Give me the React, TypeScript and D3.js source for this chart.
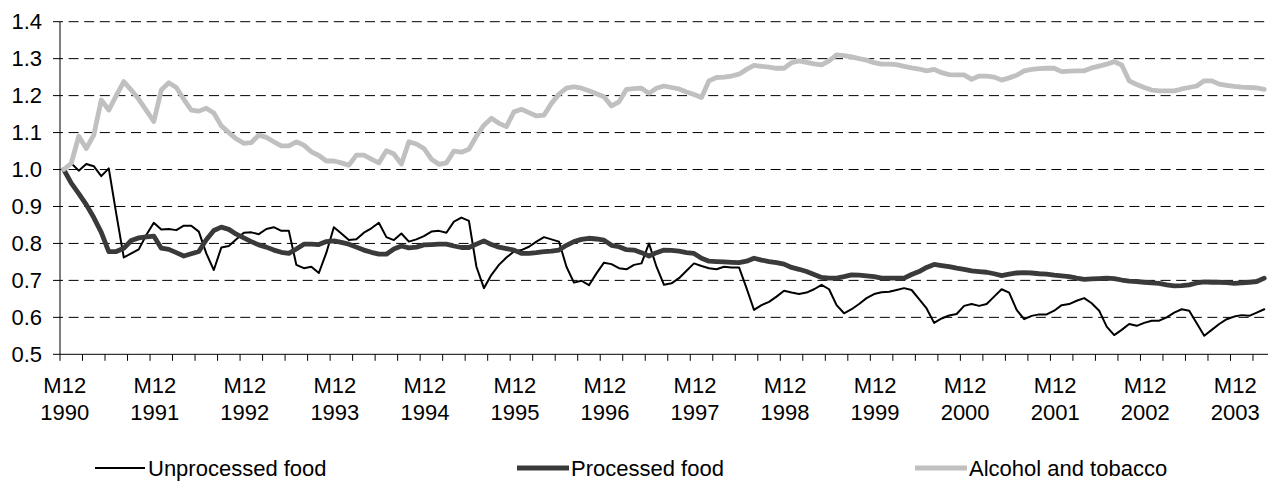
import React from 'react';
import * as d3 from 'd3';

// ---- data (monthly index values, M12 1990 = 1.0) ----
const unprocessedFood = [
  1.0, 1.017, 0.997, 1.015, 1.009, 0.982, 1.003, 0.88, 0.762, 0.773, 0.784, 0.823,
  0.856, 0.838, 0.839, 0.836, 0.848, 0.848, 0.832, 0.773, 0.728, 0.789, 0.793, 0.811,
  0.829, 0.83, 0.825, 0.839, 0.844, 0.834, 0.834, 0.742, 0.733, 0.737, 0.72, 0.775,
  0.844, 0.827, 0.809, 0.811, 0.829, 0.841, 0.856, 0.817, 0.809, 0.827, 0.805, 0.811,
  0.82, 0.832, 0.834, 0.829, 0.859, 0.87, 0.861, 0.737, 0.679, 0.715, 0.742, 0.762,
  0.778, 0.782, 0.791, 0.805, 0.817, 0.811, 0.805, 0.737, 0.694, 0.699, 0.687, 0.719,
  0.748, 0.744, 0.733, 0.73, 0.742, 0.746, 0.8, 0.737, 0.688, 0.692, 0.706, 0.726,
  0.746, 0.739, 0.733, 0.73, 0.737, 0.735, 0.735, 0.679, 0.62, 0.633, 0.642, 0.656,
  0.672, 0.667, 0.663, 0.667, 0.676, 0.688, 0.676, 0.633, 0.611, 0.622, 0.636, 0.652,
  0.663, 0.668, 0.669, 0.674, 0.679, 0.674, 0.649, 0.624, 0.585, 0.597, 0.605, 0.609,
  0.631, 0.636, 0.631, 0.636, 0.656, 0.676, 0.667, 0.62, 0.595, 0.604, 0.608, 0.608,
  0.618, 0.633, 0.636, 0.645, 0.652, 0.638, 0.618, 0.575, 0.552, 0.566, 0.582, 0.577,
  0.585, 0.591, 0.591, 0.6, 0.613, 0.622, 0.618, 0.584, 0.55, 0.566, 0.582, 0.595,
  0.602, 0.606, 0.604, 0.613, 0.622,
];

const processedFood = [
  1.0, 0.963, 0.935, 0.905, 0.87, 0.83, 0.778, 0.778, 0.787, 0.808, 0.815, 0.818,
  0.82, 0.787, 0.784, 0.775, 0.766, 0.772, 0.778, 0.81, 0.835, 0.844, 0.838, 0.825,
  0.815, 0.805, 0.796, 0.79, 0.782, 0.776, 0.773, 0.785, 0.798, 0.798, 0.797, 0.805,
  0.807, 0.803, 0.798, 0.79, 0.782, 0.776, 0.771, 0.771, 0.785, 0.793, 0.788, 0.79,
  0.796, 0.797, 0.798, 0.798, 0.793, 0.789, 0.789, 0.798, 0.807, 0.797, 0.79, 0.786,
  0.782, 0.773, 0.773, 0.775, 0.778, 0.779, 0.782, 0.795, 0.805, 0.811, 0.814, 0.812,
  0.809, 0.795, 0.791, 0.783, 0.782, 0.775, 0.766, 0.775, 0.782, 0.781, 0.779, 0.775,
  0.773, 0.76, 0.752, 0.751, 0.75, 0.749, 0.748, 0.752, 0.76, 0.755, 0.751, 0.748,
  0.744, 0.735, 0.73, 0.724, 0.716, 0.708, 0.706, 0.706, 0.71, 0.715, 0.714, 0.712,
  0.71, 0.706, 0.706, 0.706, 0.706, 0.716, 0.724, 0.735, 0.743, 0.74, 0.737, 0.733,
  0.73, 0.726, 0.724, 0.722, 0.718, 0.713, 0.717, 0.72, 0.721, 0.72, 0.718, 0.717,
  0.714, 0.712, 0.71, 0.706, 0.703, 0.704, 0.705, 0.706, 0.705, 0.701, 0.698, 0.697,
  0.695, 0.693, 0.692, 0.688, 0.685, 0.686, 0.688, 0.693, 0.696, 0.695, 0.695, 0.694,
  0.692, 0.693, 0.695, 0.697, 0.706,
];

const alcoholTobacco = [
  1.0, 1.017, 1.09, 1.057, 1.093, 1.188, 1.161, 1.2, 1.238, 1.215, 1.19, 1.16,
  1.13, 1.215, 1.235, 1.222, 1.19, 1.161, 1.158, 1.166, 1.153, 1.118, 1.1, 1.083,
  1.071, 1.073, 1.093, 1.087, 1.075, 1.064, 1.064, 1.075, 1.066, 1.048, 1.038, 1.023,
  1.023, 1.018, 1.012, 1.039, 1.039, 1.028, 1.018, 1.051, 1.042, 1.015, 1.075, 1.069,
  1.057, 1.028, 1.014, 1.018, 1.05, 1.047, 1.055, 1.09, 1.12, 1.139, 1.125, 1.116,
  1.156, 1.163, 1.154, 1.145, 1.147, 1.179, 1.204, 1.22, 1.224, 1.22, 1.213, 1.205,
  1.197, 1.172, 1.183, 1.217, 1.219, 1.22, 1.206, 1.22, 1.226, 1.222, 1.218, 1.21,
  1.203, 1.195, 1.24, 1.249, 1.25, 1.253, 1.258, 1.271, 1.282, 1.279, 1.277, 1.274,
  1.274, 1.289, 1.294, 1.29, 1.286, 1.283, 1.294, 1.31, 1.308, 1.305, 1.3, 1.296,
  1.289, 1.285, 1.285, 1.284, 1.279, 1.275, 1.272, 1.267, 1.271, 1.262, 1.257, 1.256,
  1.256, 1.244, 1.253, 1.253, 1.25, 1.242, 1.248, 1.255, 1.267, 1.271, 1.273, 1.274,
  1.274, 1.265, 1.266, 1.267, 1.267, 1.275, 1.28, 1.285, 1.292, 1.283, 1.24, 1.23,
  1.222, 1.215, 1.213, 1.213, 1.213, 1.218, 1.222, 1.226, 1.24, 1.24, 1.231, 1.228,
  1.225, 1.223, 1.222, 1.221, 1.217,
];

const seriesNames = ['Unprocessed food', 'Processed food', 'Alcohol and tobacco'];
const yTickValues = [0.5, 0.6, 0.7, 0.8, 0.9, 1.0, 1.1, 1.2, 1.3, 1.4];
const yearLabels = ['1990', '1991', '1992', '1993', '1994', '1995', '1996', '1997', '1998', '1999', '2000', '2001', '2002', '2003'];
const startYear = 1990;

// monthly categories: M12 1990 ... M4 2004
const categories = d3.range(unprocessedFood.length).map((i) => {
  const m = ((11 + i) % 12) + 1;
  const yr = startYear + Math.floor((11 + i) / 12);
  return `M${m} ${yr}`;
});

// ---- layout ----
const W = 1270;
const H = 501;
const plotLeft = 60;
const plotRight = 1268;
const plotTop = 21.7;
const plotBottom = 354.3;
const FONT = "'Liberation Sans', Arial, sans-serif";

const styles = [
  { color: '#000000', width: 2 },
  { color: '#3a3a3a', width: 4.8 },
  { color: '#c0c0c0', width: 4.8 },
];
const legendPos = [
  { x1: 95, x2: 145, tx: 148 },
  { x1: 517, x2: 569, tx: 571 },
  { x1: 915, x2: 967, tx: 969 },
];
const legendY = 468;

export default function App() {
  const x = d3.scaleBand<string>().domain(categories).range([plotLeft, plotRight]).padding(0);
  const bw = x.bandwidth();
  const cx = (i: number) => (x(categories[i]) as number) + bw / 2;
  const y = d3.scaleLinear().domain([0.5, 1.4]).range([plotBottom, plotTop]);
  const fmt = d3.format('.1f');

  const line = d3
    .line<number>()
    .x((_, i) => cx(i))
    .y((d) => y(d));

  const allSeries = [unprocessedFood, processedFood, alcoholTobacco];

  const tickIdx = d3.range(0, categories.length, 3);
  const labelIdx = categories
    .map((c, i) => ({ c, i }))
    .filter((d) => d.c.startsWith('M12 ') && yearLabels.includes(d.c.slice(4)));

  return (
    <svg
      width={W}
      height={H}
      style={{ position: 'absolute', left: 0, top: 0, background: '#fff' }}
      fontFamily={FONT}
    >
      <rect x={0} y={0} width={W} height={H} fill="#fff" />
      {/* gridlines */}
      {yTickValues.slice(1).map((v) => (
        <line
          key={v}
          x1={plotLeft - 7}
          x2={plotRight}
          y1={y(v)}
          y2={y(v)}
          stroke="#000"
          strokeWidth={1}
          strokeDasharray="10,5.6"
        />
      ))}
      {/* y tick at baseline */}
      <line x1={plotLeft - 7} x2={plotLeft} y1={y(0.5)} y2={y(0.5)} stroke="#000" strokeWidth={1} />
      {/* axes */}
      <line x1={plotLeft} x2={plotLeft} y1={plotTop} y2={plotBottom} stroke="#000" strokeWidth={1} />
      <line x1={plotLeft} x2={plotRight} y1={plotBottom} y2={plotBottom} stroke="#000" strokeWidth={1} />
      {tickIdx.map((i) => (
        <line
          key={i}
          x1={x(categories[i]) as number}
          x2={x(categories[i]) as number}
          y1={plotBottom}
          y2={plotBottom + 6.5}
          stroke="#000"
          strokeWidth={1}
        />
      ))}
      {/* y labels */}
      {yTickValues.map((v) => (
        <text key={v} x={42} y={y(v) + 7.7} textAnchor="end" fontSize={22} fill="#000">
          {fmt(v)}
        </text>
      ))}
      {/* x labels */}
      {labelIdx.map(({ c, i }) => (
        <g key={c}>
          <text x={cx(i) + 1} y={393} textAnchor="middle" fontSize={22} fill="#000">
            {c.split(' ')[0]}
          </text>
          <text x={cx(i) + 1} y={420} textAnchor="middle" fontSize={22} fill="#000">
            {c.split(' ')[1]}
          </text>
        </g>
      ))}
      {/* series */}
      {allSeries.map((s, k) => (
        <path
          key={k}
          d={line(s) as string}
          fill="none"
          stroke={styles[k].color}
          strokeWidth={styles[k].width}
          strokeLinejoin="round"
          strokeLinecap="round"
        />
      ))}
      {/* legend */}
      {seriesNames.map((n, k) => (
        <g key={n}>
          <line
            x1={legendPos[k].x1}
            x2={legendPos[k].x2}
            y1={legendY}
            y2={legendY}
            stroke={styles[k].color}
            strokeWidth={styles[k].width}
          />
          <text x={legendPos[k].tx} y={legendY + 7.8} fontSize={22} fill="#000">
            {n}
          </text>
        </g>
      ))}
    </svg>
  );
}
